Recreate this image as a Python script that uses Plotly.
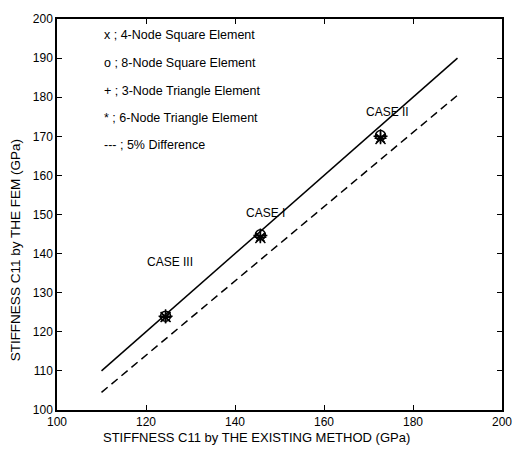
import plotly.graph_objects as go

# Data
line_x = [110, 130, 150, 170, 190]
line_y = [110, 130, 150, 170, 190]
dash_x = [110, 130, 150, 170, 190]
dash_y = [104.5, 123.5, 142.5, 161.5, 180.5]

case_names = ["CASE III", "CASE I", "CASE II"]
existing = [124.4, 145.7, 172.7]
sq4 = [123.8, 144.0, 169.3]
sq8 = [124.0, 144.8, 170.2]
tri3 = [124.0, 144.6, 170.0]
tri6 = [123.7, 144.2, 169.5]

legend_lines = [
    "x ; 4-Node Square Element",
    "o ; 8-Node Square Element",
    "+ ; 3-Node Triangle Element",
    "* ; 6-Node Triangle Element",
    "--- ; 5% Difference",
]

FAM = "Liberation Sans, Arial, sans-serif"

fig = go.Figure()
fig.add_trace(go.Scatter(x=line_x, y=line_y, mode="lines",
                         line=dict(color="black", width=1.5)))
fig.add_trace(go.Scatter(x=dash_x, y=dash_y, mode="lines",
                         line=dict(color="black", width=1.5, dash="8px,5px")))

mk = dict(color="black", size=10, line=dict(color="black", width=1.5))
for vals, sym in [(sq4, "x-thin-open"), (sq8, "circle-open"),
                  (tri3, "cross-thin-open"), (tri6, "asterisk-open")]:
    fig.add_trace(go.Scatter(x=existing, y=vals, mode="markers",
                             marker=dict(symbol=sym, **mk)))

def f(size):
    return dict(family=FAM, size=size, color="black")

# Case labels
label_pos = [(125.5, 137.9), (146.8, 150.4), (174.3, 176.3)]
for name, (lx, ly) in zip(case_names, label_pos):
    fig.add_annotation(x=lx, y=ly, text=name, showarrow=False, font=f(12),
                       xanchor="center", yanchor="middle")

# Legend text block
leg_y = [195.9, 188.8, 181.7, 174.6, 167.7]
for t, ly in zip(legend_lines, leg_y):
    fig.add_annotation(x=110.2, y=ly, text=t, showarrow=False, font=f(12.5),
                       xanchor="left", yanchor="middle")

# Axis titles
fig.add_annotation(x=(259 - 57) / 451, y=-(438 - 410) / 393, xref="paper", yref="paper",
                   text="STIFFNESS C11 by THE EXISTING METHOD (GPa)", showarrow=False,
                   font=f(13), xanchor="center", yanchor="middle")
fig.add_annotation(x=-(57 - 15) / 451, y=(410 - 250) / 393, xref="paper", yref="paper",
                   text="STIFFNESS C11 by THE FEM (GPa)", showarrow=False, textangle=-90,
                   font=f(13.5), xanchor="center", yanchor="middle")

axis_common = dict(showline=True, linecolor="black", linewidth=1.5, mirror="ticks",
                   ticks="inside", ticklen=5, tickcolor="black", tickwidth=1,
                   showgrid=False, zeroline=False, tickfont=f(12))

fig.update_layout(
    width=524, height=455,
    margin=dict(l=57, r=16, t=17, b=45),
    paper_bgcolor="white", plot_bgcolor="white",
    showlegend=False,
    xaxis=dict(range=[100, 200], dtick=20, tick0=100, ticklabelstandoff=0, **axis_common),
    yaxis=dict(range=[100, 200], dtick=10, tick0=100, **axis_common),
)

fig.write_html("out.html", config={"displayModeBar": False},
               post_script="document.body.style.margin='0';")
